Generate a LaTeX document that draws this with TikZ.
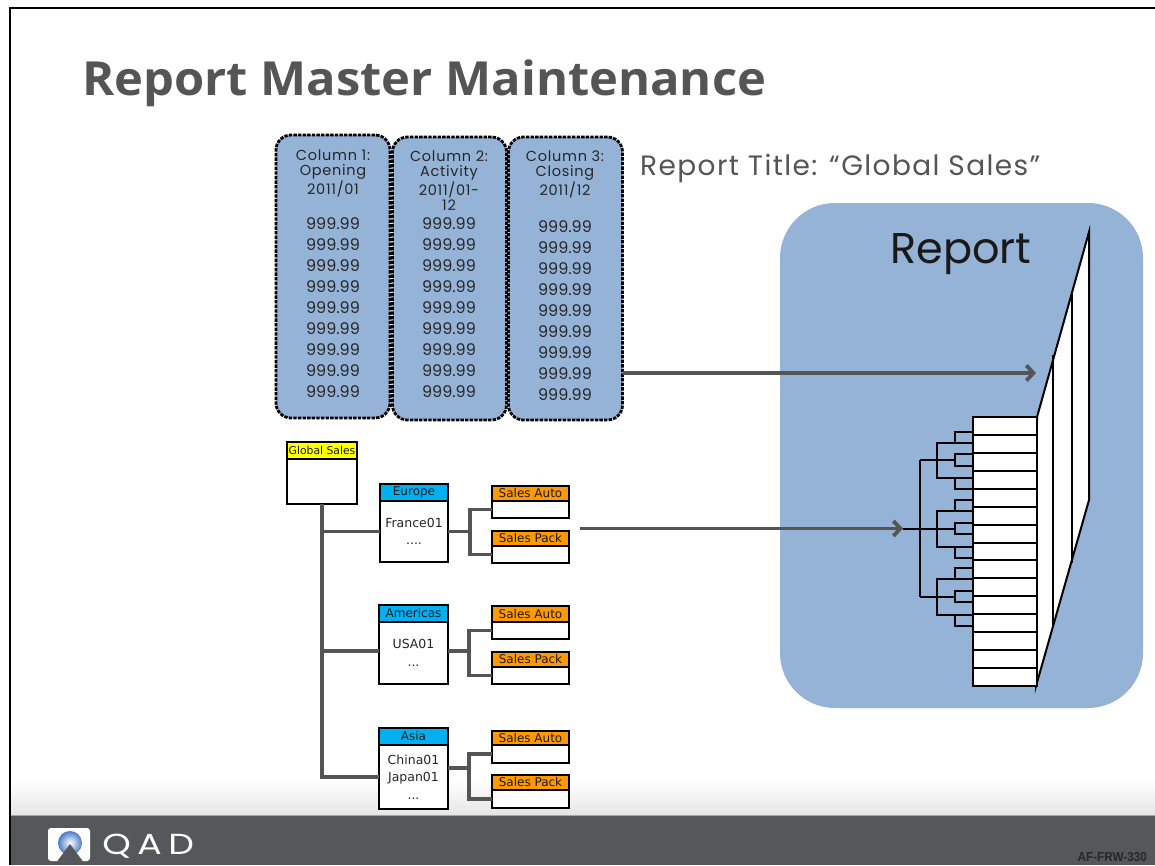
\documentclass[tikz,border=0pt]{standalone}
\usepackage{fontspec}
\setmainfont{Poppins}
\newfontfamily\headfont{Open Sans}
\newfontfamily\cellfont{DejaVu Sans}
\newfontfamily\codefont{Liberation Sans}
\usetikzlibrary{arrows.meta,calc}

\definecolor{panelblue}{HTML}{95B3D7}
\definecolor{titlegray}{HTML}{555555}
\definecolor{darktext}{HTML}{262626}
\definecolor{linkgray}{HTML}{555555}
\definecolor{hdryellow}{HTML}{FFFF00}
\definecolor{hdrcyan}{HTML}{00B0F0}
\definecolor{hdrorange}{HTML}{FF9900}
\definecolor{footerdark}{HTML}{54585A}
\definecolor{logoblue}{HTML}{4A7CC8}

\tikzset{
  colbox/.style={draw=black, fill=panelblue, line width=2.8pt,
    dash pattern=on 3.4pt off 1.2pt, rounded corners=15pt,
    inner sep=0pt, outer sep=0pt},
  colhead/.style={font=\fontsize{14.5}{15.5}\selectfont\addfontfeature{LetterSpace=5},
    text=darktext, align=center, anchor=north, inner sep=0pt},
  numcell/.style={font=\fontsize{16}{16}\selectfont, text=darktext, inner sep=0pt},
  cell/.style={draw=black, line width=2pt, inner sep=0pt, outer sep=0pt},
  hdrtext/.style={font=\cellfont\fontsize{12}{12}\selectfont, text=black!90},
  bodytext/.style={font=\cellfont\fontsize{12.5}{17.5}\selectfont, text=darktext, align=center},
  link/.style={draw=linkgray, line width=3.2pt},
  bigarrow/.style={draw=linkgray, line width=3.8pt,
    -{Straight Barb[length=7pt,width=15pt,line width=3.8pt]}},
  pageline/.style={draw=black, line width=2pt},
  tree/.style={draw=black, line width=2pt},
}

% header box: name, x1, y1, x2, header bottom, y2, colour, header text, body text
\newcommand\headedbox[9]{%
  \node[cell, fill=#7, hdrtext, minimum width={(#4-#2)*1pt}, minimum height={(#5-#3)*1pt}]
    (#1h) at ({(#2+#4)/2},{(#3+#5)/2}) {#8};
  \node[cell, fill=white, bodytext, minimum width={(#4-#2)*1pt}, minimum height={(#6-#5)*1pt}]
    (#1) at ({(#2+#4)/2},{(#5+#6)/2}) {#9};
}

\begin{document}
\begin{tikzpicture}[x=1pt, y=-1pt]
\useasboundingbox (0,0) rectangle (1155,865);
\fill[white] (0,0) rectangle (1155,865);

% slide frame and footer
\shade[top color=white, bottom color=black!10] (10,780) rectangle (1155,815);
\fill[footerdark] (10,815) rectangle (1155,865);
\draw[black!35, line width=0.8pt] (10,815.5) -- (1155,815.5);
\draw[black, line width=2pt] (10,865) -- (10,8) -- (1155,8);

% logo
\fill[white, rounded corners=3pt] (48,828) rectangle (90,861);
\shade[inner color=white, outer color=logoblue] (70,843) circle (12);
\fill[footerdark] (57,861.5) -- (70,844) -- (83,861.5) -- cycle;
\node[font=\fontsize{29}{29}\selectfont\addfontfeature{LetterSpace=18}, text=white,
  anchor=base west, inner sep=0pt, xscale=1.25] (brand) at (102,854) {QAD};
\node[font=\codefont\bfseries\fontsize{13}{13}\selectfont, text=black!85,
  anchor=base east, inner sep=0pt, xscale=0.9] (code) at (1147,861) {AF-FRW-330};

% slide title
\node[font=\headfont\bfseries\fontsize{47}{47}\selectfont, text=titlegray,
  anchor=base west, inner sep=0pt, xscale=1.04] (title) at (82,95) {Report Master Maintenance};

% report columns
\node[colbox, minimum width=114pt, minimum height=283pt] (c1) at (333,276.5) {};
\node[colbox, minimum width=114pt, minimum height=283pt] (c2) at (449.5,278.5) {};
\node[colbox, minimum width=114pt, minimum height=283pt] (c3) at (565.5,278.5) {};

\node[colhead] (c1t) at (333,149.5) {Column 1:\\Opening\\2011/01};
\node[colhead] (c2t) at (449,150.5) {Column 2:\\Activity\\2011/01-\\12};
\node[colhead] (c3t) at (565,150.5) {Column 3:\\Closing\\2011/12};

\foreach \i in {0,...,8} {
  \node[numcell] (c1n\i) at (333,{224+21*\i}) {999.99};
  \node[numcell] (c2n\i) at (449,{224+21*\i}) {999.99};
  \node[numcell] (c3n\i) at (565,{227+20.9*\i}) {999.99};
}

\node[font=\fontsize{28}{28}\selectfont\addfontfeature{LetterSpace=5}, text=titlegray,
  anchor=base west, inner sep=0pt] (rtitle) at (640,175) {Report Title: “Global Sales”};

% report panel
\node[fill=panelblue, rounded corners=55pt, minimum width=363pt, minimum height=505pt,
  inner sep=0pt] (rep) at (961.5,455.5) {};
\node[font=\fontsize{43}{43}\selectfont, text=black!90, anchor=base west,
  inner sep=0pt] (replabel) at (890,263) {Report};

% stacked pages
\draw[pageline, fill=white] (1037,417) -- (1089,232) -- (1089,500) -- (1036,686) -- cycle;
\draw[pageline] (1053,355) -- (1053,625);
\draw[pageline] (1072,294) -- (1072,563);
\foreach \i in {0,...,14}
  \node[cell, fill=white, minimum width=64pt, minimum height=17.93pt]
    (row\i) at (1005,{417+17.93*(\i+0.5)}) {};

% hierarchy tree beside the table
\coordinate (dstub) at (903,528.5);
\draw[tree] (920,460.3) -- (920,596.7);
\draw[tree] (dstub) -- (920,528.5);
\foreach \o in {0,68.2,136.4} {
  \draw[tree] (920,460.3+\o) -- (955,460.3+\o);
  \draw[tree] (973,454.3+\o) -- (955,454.3+\o) -- (955,465.7+\o) -- (973,465.7+\o);
  \draw[tree] (973,442.7+\o) -- (937,442.7+\o) -- (937,478.3+\o) -- (973,478.3+\o);
  \draw[tree] (973,431.7+\o) -- (955,431.7+\o) -- (955,442.7+\o);
  \draw[tree] (955,478.3+\o) -- (955,489.3+\o) -- (973,489.3+\o);
}

% account structure
\headedbox{gs}{287}{442}{357}{459}{504}{hdryellow}{\fontsize{10.8}{10.8}\selectfont Global Sales}{}
\headedbox{eu}{380}{484}{448}{501}{562}{hdrcyan}{Europe}{France01\\....}
\headedbox{saE}{492}{486}{569}{501}{518}{hdrorange}{Sales Auto}{}
\headedbox{spE}{492}{531}{569}{546}{563}{hdrorange}{Sales Pack}{}
\headedbox{am}{379}{605}{448}{622}{684}{hdrcyan}{Americas}{USA01\\...}
\headedbox{saA}{492}{606}{569}{622}{639}{hdrorange}{Sales Auto}{}
\headedbox{spA}{492}{652}{569}{667}{684}{hdrorange}{Sales Pack}{}
\headedbox{as}{379}{728}{448}{745}{809}{hdrcyan}{Asia}{China01\\Japan01\\...}
\headedbox{saS}{492}{731}{569}{745}{763}{hdrorange}{Sales Auto}{}
\headedbox{spS}{492}{775}{569}{790}{808}{hdrorange}{Sales Pack}{}

\draw[link] (gs.south) -- (gs.south |- as.west) -- (as.west);
\draw[link] (gs.south |- eu.west) -- (eu.west);
\draw[link] (gs.south |- 0,651) -- ([yshift=2pt]am.west);

\draw[link] (eu.east) -- ++(22,0);
\draw[link] (saE.west) -| ($(eu.east)+(22,0)$) |- (spE.west);
\draw[link] ([yshift=2pt]am.east) -- ++(21,0);
\draw[link] (saA.west) -| (469,651) |- (spA.west);
\draw[link] ([yshift=9pt]as.east) -- ++(21,0);
\draw[link] (saS.west) -| (469,768) |- (spS.west);

% flows into the report
\coordinate (pgin) at (1036,373);
\draw[bigarrow] (c3.east |- pgin) -- (pgin);
\draw[bigarrow] ([xshift=11pt]spE.east |- dstub) -- (dstub);
\end{tikzpicture}
\end{document}
